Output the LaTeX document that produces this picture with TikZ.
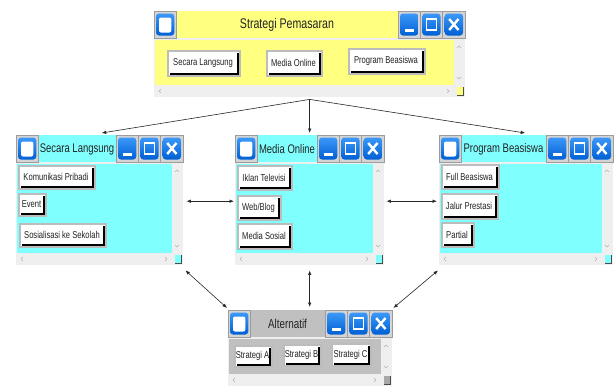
\documentclass[tikz,border=0pt]{standalone}
\usepackage{fontspec}
\newfontfamily\uifont{Liberation Sans}[FakeStretch=0.76]
\usetikzlibrary{arrows.meta}
\definecolor{wyellow}{HTML}{FFFF80}
\definecolor{wcyan}{HTML}{80FFFF}
\definecolor{wgray}{HTML}{C0C0C0}
\definecolor{wgraysq}{HTML}{A8A8A8}
\definecolor{barbg}{HTML}{EFEFEF}
\definecolor{iconframe}{HTML}{D4D4D4}
\definecolor{iconedge}{HTML}{9C9C9C}
\definecolor{blueA}{HTML}{3C98F8}
\definecolor{blueB}{HTML}{0060D4}
\definecolor{btnframe}{HTML}{BCBCBC}
\definecolor{scrollmark}{HTML}{B4B4B4}
\definecolor{txtc}{HTML}{222222}

\newcommand\iconbase[2]{%
  \fill[iconframe] (#1,#2) rectangle ++(22.3,27);
  \draw[iconedge,line width=0.6pt] (#1,#2) rectangle ++(22.3,27);
  \shade[top color=blueA,bottom color=blueB,rounded corners=3pt] (#1+2,#2+2.5) rectangle ++(18.3,22);
}
\newcommand\lefticon[2]{\iconbase{#1}{#2}%
  \fill[white,rounded corners=2pt] (#1+5,#2+6.5) rectangle ++(12.3,15);}
\newcommand\minicon[2]{\iconbase{#1}{#2}%
  \draw[white,line width=2.2pt] (#1+6.5,#2+19.5) -- (#1+15.8,#2+19.5);}
\newcommand\maxicon[2]{\iconbase{#1}{#2}%
  \draw[white,line width=1.6pt] (#1+6,#2+8) rectangle (#1+16.3,#2+19);}
\newcommand\closeicon[2]{\iconbase{#1}{#2}%
  \draw[white,line width=2.4pt] (#1+6.5,#2+8) -- (#1+15.8,#2+19) (#1+6.5,#2+19) -- (#1+15.8,#2+8);}

% #1 name #2 x1 #3 y1 #4 x2 #5 y2 #6 colour #7 corner colour #8 title #9 font size
\newcommand\wnd[9]{%
  \node[inner sep=0pt, minimum width={(#4-#2)*1pt}, minimum height={(#5-#3)*1pt}, anchor=north west] (#1) at (#2,#3) {};
  \fill[barbg] (#2,#3) rectangle (#4,#5);
  \fill[#6] (#2+22,#3) rectangle (#4-67,#3+27);
  \fill[#6] (#2+1,#3+29) rectangle (#4-11,#5-12);
  \lefticon{#2}{#3}
  \minicon{#4-67}{#3}
  \maxicon{#4-44.7}{#3}
  \closeicon{#4-22.3}{#3}
  \node[wtitle, font=\uifont\fontsize{#9}{#9}\selectfont] (#1-title) at ({(#2+#4-45)/2}, #3+14) {#8};
  \draw[scrollmark] (#4-8,#3+37) -- (#4-6,#3+35) -- (#4-4,#3+37);
  \draw[scrollmark] (#4-8,#5-20) -- (#4-6,#5-18) -- (#4-4,#5-20);
  \draw[scrollmark] (#2+7,#5-8) -- (#2+5,#5-6) -- (#2+7,#5-4);
  \draw[scrollmark] (#4-18,#5-8) -- (#4-16,#5-6) -- (#4-18,#5-4);
  \fill[#7] (#4-8,#5-10) rectangle (#4-2,#5-2);
  \draw[black!70,line width=0.8pt] (#4-2,#5-10) -- (#4-2,#5-2) -- (#4-8,#5-2);
}
% #1 name #2 x1 #3 y1 #4 x2 #5 y2 #6 text
\newcommand\btn[6]{%
  \fill[btnframe] (#2,#3) rectangle (#4,#5);
  \fill[white] (#2+2,#3+2) rectangle (#4-2,#5-2);
  \draw[black,line width=2pt] (#4-3,#3+3) -- (#4-3,#5-3) -- (#2+3,#5-3);
  \node[btntxt] (#1) at ({(#2+#4)/2-1},{(#3+#5)/2-0.5}) {#6};
}

\tikzset{
  wtitle/.style={inner sep=0pt, text=txtc},
  btntxt/.style={inner sep=0pt, text=txtc, font=\uifont\fontsize{10}{11}\selectfont},
  conn/.style={-{Latex[length=4.5pt,width=3.5pt]}, line width=0.6pt, black!85},
  conn2/.style={{Latex[length=4.5pt,width=3.5pt]}-{Latex[length=4.5pt,width=3.5pt]}, line width=0.6pt, black!85}
}

\begin{document}
\begin{tikzpicture}[x=1pt,y=-1pt]
\fill[white] (0,0) rectangle (614,386);
\useasboundingbox (0,0) rectangle (614,386);

\wnd{T}{154}{11}{465}{97}{wyellow}{wyellow}{Strategi Pemasaran}{14}
\btn{tb1}{167}{50}{241}{77}{Secara Langsung}
\btn{tb2}{266}{50}{323}{77}{Media Online}
\btn{tb3}{348}{48}{426}{75}{Program Beasiswa}

\wnd{L}{16}{135}{183}{265}{wcyan}{wcyan}{Secara Langsung}{12.5}
\btn{lb1}{18}{165}{96}{190}{Komunikasi Pribadi}
\btn{lb2}{18}{193}{47}{217}{Event}
\btn{lb3}{19}{223}{107}{248}{Sosialisasi ke Sekolah}

\wnd{M}{235}{135}{384}{265}{wcyan}{wcyan}{Media Online}{12.5}
\btn{mb1}{237}{165}{293}{191}{Iklan Televisi}
\btn{mb2}{237}{195}{282}{221}{Web/Blog}
\btn{mb3}{237}{223}{293}{250}{Media Sosial}

\wnd{R}{439}{135}{613}{265}{wcyan}{wcyan}{Program Beasiswa}{12.5}
\btn{rb1}{441}{164}{500}{190}{Full Beasiswa}
\btn{rb2}{441}{193}{499}{220}{Jalur Prestasi}
\btn{rb3}{441}{222}{475}{248}{Partial}

\wnd{A}{228}{310}{392}{386}{wgray}{wgraysq}{Alternatif}{13}
\btn{ab1}{234}{345}{273}{368}{Strategi A}
\btn{ab2}{283}{344}{322}{367}{Strategi B}
\btn{ab3}{331}{343}{372}{367}{Strategi C}

\draw[conn] ([yshift=-2pt]T.south) -- ([xshift=2pt,yshift=2pt]L.north);
\draw[conn] ([yshift=-2pt]T.south) -- ([yshift=2pt]M.north);
\draw[conn] ([yshift=-2pt]T.south) -- ([xshift=-1pt,yshift=2pt]R.north);

\draw[conn2] ([xshift=3pt,yshift=-1pt]L.east) -- ([xshift=-1pt,yshift=-1pt]M.west);
\draw[conn2] ([xshift=2pt,yshift=-1pt]M.east) -- ([xshift=-2pt,yshift=-1pt]R.west);

\draw[conn2] ([shift={(2pt,-5pt)}]L.south east) -- ([shift={(-1pt,2pt)}]A.north west);
\draw[conn2] ([yshift=-5pt]M.south) -- ([yshift=3pt]M.south |- A.north);
\draw[conn2] ([shift={(-1pt,-5pt)}]R.south west) -- ([shift={(1pt,2pt)}]A.north east);
\end{tikzpicture}
\end{document}
